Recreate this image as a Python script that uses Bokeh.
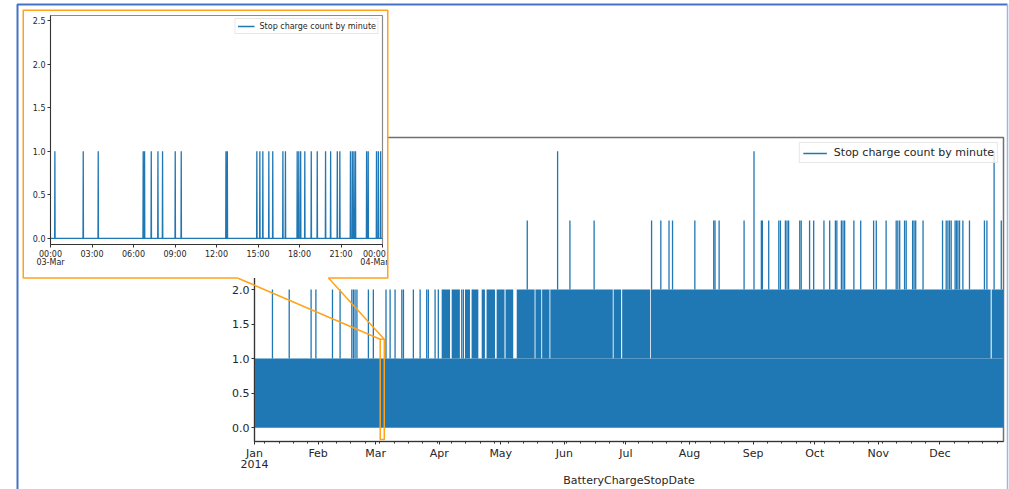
import pandas as pd
from bokeh.plotting import figure
from bokeh.models import (Range1d, FixedTicker, PrintfTickFormatter, Legend,
                          LegendItem, GridBox)
from bokeh.embed import file_html
from bokeh.resources import INLINE

# ------------------------------------------------------------------ data
series_name = "Stop charge count by minute"
x_title = "BatteryChargeStopDate"
period_start = "2014-01-01 00:00"
period_end = "2014-12-31 23:59"
month_labels = ["Jan\n2014", "Feb", "Mar", "Apr", "May", "Jun",
                "Jul", "Aug", "Sep", "Oct", "Nov", "Dec"]
y_ticks = [0.0, 0.5, 1.0, 1.5, 2.0, 2.5, 3.0, 3.5, 4.0]
y_limits = (-0.2, 4.2)

# every day of the year has many minutes with one stop (dense band 0..1)
base_level = 1
# isolated minutes with two stops
spikes_2 = ["2014-01-09 18:00", "2014-01-17 22:00", "2014-01-28 14:00",
            "2014-01-30 22:00", "2014-02-08 00:00", "2014-02-11 17:00",
            "2014-02-17 10:00", "2014-02-18 05:00", "2014-02-19 00:00",
            "2014-02-19 22:00", "2014-02-25 12:00", "2014-02-27 22:00",
            "2014-03-06 02:00", "2014-03-08 02:00", "2014-03-10 12:00",
            "2014-03-13 19:00", "2014-03-14 14:00", "2014-03-19 10:00",
            "2014-03-22 17:00", "2014-03-25 22:00", "2014-03-26 17:00",
            "2014-03-30 00:00", "2014-03-31 14:00", "2014-04-12 00:00",
            "2014-04-12 19:00"]
# periods where minutes with two stops are so frequent they merge
dense_2 = [("2014-04-02 05:00", "2014-04-06 07:00"),
           ("2014-04-07 02:00", "2014-04-11 02:00"),
           ("2014-04-13 14:00", "2014-04-16 00:00"),
           ("2014-04-16 19:00", "2014-04-20 02:00"),
           ("2014-04-21 17:00", "2014-04-23 07:00"),
           ("2014-04-24 02:00", "2014-04-28 05:00"),
           ("2014-04-29 00:00", "2014-05-02 20:00"),
           ("2014-05-03 08:00", "2014-05-07 02:00"),
           ("2014-05-08 19:00", "2014-05-17 12:00"),
           ("2014-05-17 22:00", "2014-05-20 18:00"),
           ("2014-05-21 04:00", "2014-05-24 18:00"),
           ("2014-05-25 04:00", "2014-06-24 14:00"),
           ("2014-06-25 00:00", "2014-06-28 16:00"),
           ("2014-06-29 04:00", "2014-07-12 19:00"),
           ("2014-07-13 04:00", "2014-12-25 18:00"),
           ("2014-12-26 06:00", "2014-12-31 23:59")]
# minutes with three stops
spikes_3 = ["2014-05-13 22:00", "2014-06-03 17:00", "2014-06-15 12:00",
            "2014-07-13 12:00", "2014-07-18 00:00", "2014-07-22 00:00",
            "2014-07-23 17:00", "2014-08-03 14:00", "2014-08-12 19:00",
            "2014-08-13 10:00", "2014-08-15 10:00", "2014-08-27 14:00",
            "2014-09-05 00:00", "2014-09-05 12:00", "2014-09-08 14:00",
            "2014-09-13 12:00", "2014-09-14 07:00", "2014-09-16 17:00",
            "2014-09-17 12:00", "2014-09-18 07:00", "2014-09-23 17:00",
            "2014-09-24 10:00", "2014-09-28 12:00", "2014-09-30 12:00",
            "2014-10-05 12:00", "2014-10-08 07:00", "2014-10-11 02:00",
            "2014-10-11 19:00", "2014-10-14 00:00", "2014-10-14 19:00",
            "2014-10-15 14:00", "2014-10-20 02:00", "2014-10-23 10:00",
            "2014-10-29 17:00", "2014-10-31 00:00", "2014-11-04 19:00",
            "2014-11-09 17:00", "2014-11-10 12:00", "2014-11-11 10:00",
            "2014-11-13 19:00", "2014-11-14 14:00", "2014-11-17 17:00",
            "2014-11-18 10:00", "2014-11-19 05:00", "2014-11-22 19:00",
            "2014-12-02 07:00", "2014-12-04 02:00", "2014-12-04 22:00",
            "2014-12-05 17:00", "2014-12-06 12:00", "2014-12-08 10:00",
            "2014-12-09 02:00", "2014-12-09 19:00", "2014-12-10 14:00",
            "2014-12-12 05:00", "2014-12-15 10:00", "2014-12-22 17:00",
            "2014-12-23 22:00", "2014-12-30 22:00"]
# minutes with four stops
spikes_4 = ["2014-05-28 17:00", "2014-09-01 10:00", "2014-12-27 10:00"]

# zoomed day shown in the inset
inset_day = "2014-03-03"
inset_next_day = "2014-03-04"
inset_spikes = ["00:19", "02:22", "03:27", "06:42", "06:48", "07:17", "07:46",
                "08:06", "09:01", "09:27", "12:41", "12:47", "14:55", "15:08",
                "15:21", "15:47", "16:04", "16:48", "16:59", "17:50", "17:57",
                "18:05", "18:23", "18:51", "19:17", "19:53", "20:15", "20:44",
                "20:55", "21:41", "21:49", "21:56", "22:03", "22:51", "22:58",
                "23:34", "23:42", "23:52"]
inset_tick_labels = ["00:00\n03-Mar", "03:00", "06:00", "09:00", "12:00",
                     "15:00", "18:00", "21:00", "00:00\n04-Mar"]
inset_y_ticks = [0.0, 0.5, 1.0, 1.5, 2.0, 2.5]
inset_y_limits = (-0.07, 2.56)
callout_window = ("2014-03-03 06:00", "2014-03-05 06:00")
callout_levels = (-0.17, 1.28)

# ------------------------------------------------------------------ style / layout
BLUE = "#1f77b4"
ORANGE = "#ffa31a"
FRAME_BLUE = "#4472c4"
TXT = "#262626"
FONT = "DejaVu Sans"

OX, OY = 0, 0            # page origin on screen (Bokeh page has no body margin)
W, H = 1009, 489         # full drawing area
ML, MT, MR, MB = 254, 137, 6, 48   # main plot borders
IX, IY, IW, IH = 22, 9, 366, 269   # inset box on screen
mouth = (237, 328)       # where the callout leaves the inset bottom edge


def ms(s):
    return int(pd.Timestamp(s).value // 10**6)


T0, T1 = ms(period_start), ms(period_end)

# ------------------------------------------------------------------ main plot
pm = figure(width=W, height=H, x_range=Range1d(T0, T1),
            y_range=Range1d(*y_limits), output_backend="svg",
            toolbar_location=None, min_border_left=ML, min_border_right=MR,
            min_border_top=MT, min_border_bottom=MB, frame_align=False,
            background_fill_color="white", border_fill_color="white",
            outline_line_color="#707070", outline_line_width=1.5)
pm.xgrid.visible = False
pm.ygrid.visible = False

pm.varea(x=[T0, T1], y1=[0, 0], y2=[base_level, base_level], color=BLUE)
pm.quad(left=[ms(a) for a, b in dense_2], right=[ms(b) for a, b in dense_2],
        bottom=1, top=2, fill_color=BLUE, line_color=None)
s2 = [ms(t) for t in spikes_2]
r2 = pm.segment(x0=s2, y0=1, x1=s2, y1=2, line_color=BLUE, line_width=1.3)
s3 = [ms(t) for t in spikes_3]
pm.segment(x0=s3, y0=2, x1=s3, y1=3, line_color=BLUE, line_width=1.3)
s4 = [ms(t) for t in spikes_4]
pm.segment(x0=s4, y0=2, x1=s4, y1=4, line_color=BLUE, line_width=1.3)

# callout window on the main plot
pm.quad(left=[ms(callout_window[0])], right=[ms(callout_window[1])],
        bottom=[callout_levels[0]], top=[callout_levels[1]],
        fill_color=None, line_color=ORANGE, line_width=1.5)

month_ticks = [int(t.value // 10**6) for t in
               pd.date_range(period_start[:10], periods=12, freq="MS")]
monday_ticks = [int(t.value // 10**6) for t in
                pd.date_range("2014-01-06", period_end[:10], freq="7D")]
xa = pm.xaxis[0]
xa.ticker = FixedTicker(ticks=month_ticks, minor_ticks=monday_ticks)
xa.major_label_overrides = dict(zip(month_ticks, month_labels))
xa.axis_label = x_title
ya = pm.yaxis[0]
ya.ticker = FixedTicker(ticks=y_ticks)
ya.formatter = PrintfTickFormatter(format="%.1f")
for ax in (xa, ya):
    ax.major_label_text_font = FONT
    ax.major_label_text_font_size = "11px"
    ax.major_label_text_color = TXT
    ax.axis_label_text_font = FONT
    ax.axis_label_text_font_size = "11px"
    ax.axis_label_text_font_style = "normal"
    ax.axis_label_text_color = TXT
    ax.axis_line_color = "#333333"
    ax.major_tick_line_color = "#333333"
    ax.minor_tick_line_color = "#333333"
    ax.major_tick_out = 3
    ax.major_tick_in = 0
    ax.minor_tick_out = 2
    ax.minor_tick_in = 0
    ax.major_label_standoff = 2
    ax.axis_label_standoff = 0
ya.minor_tick_out = 0
xa.major_label_text_line_height = 0.85
xa.axis_label_text_line_height = 1.0

leg = Legend(items=[LegendItem(label=series_name, renderers=[r2])],
             location="top_right", margin=5, padding=3, spacing=0,
             label_text_font=FONT, label_text_font_size="11px",
             label_text_color=TXT, glyph_width=24, glyph_height=12,
             label_standoff=7, label_height=12,
             border_line_color="#d0d0d0", background_fill_alpha=0.8)
pm.add_layout(leg)

# ------------------------------------------------------------------ inset plot
D0, D1 = ms(inset_day), ms(inset_next_day)
pi = figure(width=IW, height=IH, x_range=Range1d(D0, D1),
            y_range=Range1d(*inset_y_limits), output_backend="svg",
            toolbar_location=None, min_border_left=28, min_border_right=6,
            min_border_top=6, min_border_bottom=34, frame_align=False,
            margin=(IY - OY, 0, 0, IX - OX),
            background_fill_color="white", border_fill_color="white",
            outline_line_color="#8a8a8a", outline_line_width=1.2)
pi.xgrid.visible = False
pi.ygrid.visible = False

xs, ys = [D0], [0]
for t in inset_spikes:
    tm = ms(inset_day + " " + t)
    xs += [tm - 60000, tm, tm + 60000]
    ys += [0, 1, 0]
xs.append(D1)
ys.append(0)
ri = pi.line(xs, ys, line_color=BLUE, line_width=1.3)

inset_ticks = [int(t.value // 10**6) for t in
               pd.date_range(inset_day, inset_next_day, freq="3h")]
ixa = pi.xaxis[0]
ixa.ticker = FixedTicker(ticks=inset_ticks)
ixa.major_label_overrides = dict(zip(inset_ticks, inset_tick_labels))
iya = pi.yaxis[0]
iya.ticker = FixedTicker(ticks=inset_y_ticks)
iya.formatter = PrintfTickFormatter(format="%.1f")
for ax in (ixa, iya):
    ax.major_label_text_font = FONT
    ax.major_label_text_font_size = "8px"
    ax.major_label_text_color = TXT
    ax.axis_line_color = "#333333"
    ax.major_tick_line_color = "#333333"
    ax.major_tick_out = 3
    ax.major_tick_in = 0
    ax.minor_tick_out = 0
    ax.minor_tick_in = 0
    ax.major_label_standoff = 2
ixa.major_label_text_line_height = 0.95

ileg = Legend(items=[LegendItem(label=series_name, renderers=[ri])],
              location="top_right", margin=3, padding=2, spacing=0,
              label_text_font=FONT, label_text_font_size="8px",
              label_text_color=TXT, glyph_width=17, glyph_height=10,
              label_standoff=5, label_height=10,
              border_line_color="#d0d0d0", background_fill_alpha=0.8)
pi.add_layout(ileg)

# ------------------------------------------------------------------ overlay (callout + frame)
po = figure(width=W, height=H, x_range=Range1d(OX, OX + W),
            y_range=Range1d(OY + H, OY), output_backend="svg",
            toolbar_location=None, x_axis_location=None, y_axis_location=None,
            min_border=0, frame_align=False,
            background_fill_color=None, border_fill_color=None,
            outline_line_color=None)
po.xgrid.visible = False
po.ygrid.visible = False

fl, fr = OX + ML, OX + W - MR
ft, fb = OY + MT, OY + H - MB


def sx(t):
    return fl + (t - T0) / (T1 - T0) * (fr - fl)


def sy(v):
    return fb - (v - y_limits[0]) / (y_limits[1] - y_limits[0]) * (fb - ft)


cl, cr = sx(ms(callout_window[0])), sx(ms(callout_window[1]))
ctop = sy(callout_levels[1])
bx0, bx1 = IX + 0.75, IX + IW - 0.75
by0, by1 = IY + 0.75, IY + IH - 0.5
po.line([mouth[0], bx0, bx0, bx1, bx1, mouth[1], cr],
        [by1, by1, by0, by0, by1, by1, ctop],
        line_color=ORANGE, line_width=1.5)
po.line([mouth[0], cl], [by1, ctop], line_color=ORANGE, line_width=1.5)

# screenshot frame
po.line([17, 17, 1007], [OY + H, 4, 4], line_color=FRAME_BLUE, line_width=2)
po.line([1007, 1007], [4, OY + H], line_color="#9fb6e3", line_width=1.5)

root = GridBox(children=[(pm, 0, 0), (pi, 0, 0), (po, 0, 0)])

open("out.html", "w").write(file_html(root, INLINE, title="chart"))
